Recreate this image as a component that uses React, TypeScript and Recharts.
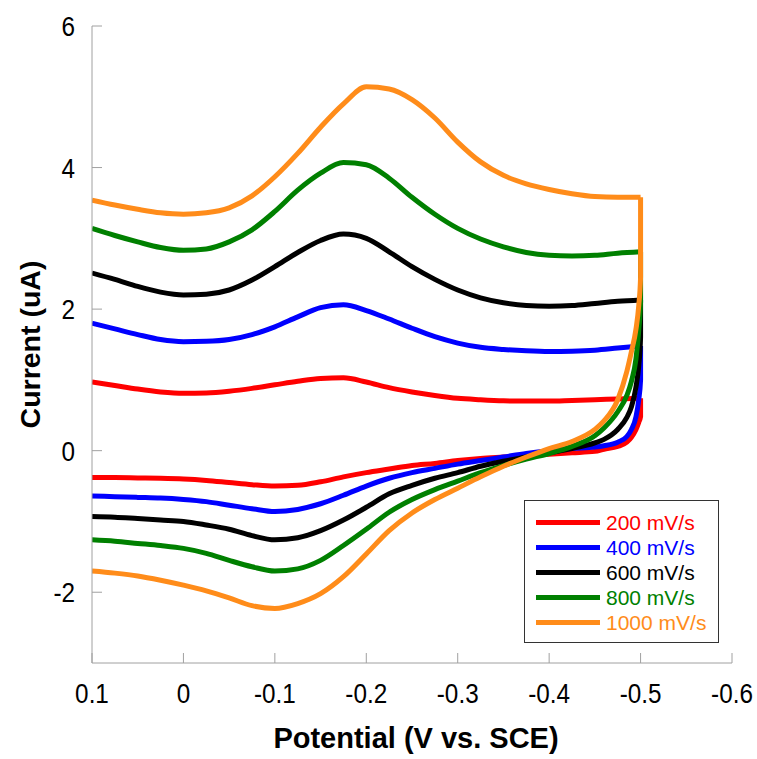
import { LineChart, Line, XAxis, YAxis, Legend, Label } from "recharts";

// potentials (V vs. SCE): forward scan 0.1 -> -0.5, then reverse scan -0.5 -> 0.1
const upperV = [0.1, 0.075, 0.05, 0.025, 0, -0.025, -0.05, -0.075, -0.1, -0.125, -0.15, -0.175, -0.2, -0.225, -0.25, -0.275, -0.3, -0.325, -0.35, -0.375, -0.4, -0.425, -0.45, -0.475, -0.5];
const lowerV = [-0.5, -0.498, -0.495, -0.49, -0.485, -0.475, -0.46, -0.45, -0.425, -0.4, -0.375, -0.35, -0.325, -0.3, -0.275, -0.25, -0.225, -0.2, -0.175, -0.15, -0.125, -0.1, -0.075, -0.05, -0.025, 0, 0.025, 0.05, 0.075, 0.1];

// current (uA)
const up200 = [0.97, 0.92, 0.87, 0.83, 0.81, 0.815, 0.84, 0.88, 0.93, 0.98, 1.02, 1.03, 0.97, 0.89, 0.83, 0.78, 0.74, 0.72, 0.705, 0.7, 0.7, 0.71, 0.72, 0.73, 0.74];
const down200 = [0.48, 0.4, 0.3, 0.19, 0.12, 0.06, 0.02, -0.01, -0.03, -0.05, -0.07, -0.09, -0.11, -0.14, -0.18, -0.21, -0.26, -0.31, -0.37, -0.44, -0.49, -0.5, -0.48, -0.45, -0.42, -0.4, -0.39, -0.385, -0.38, -0.38];

const up400 = [1.8, 1.72, 1.64, 1.57, 1.54, 1.545, 1.57, 1.64, 1.75, 1.89, 2.02, 2.06, 1.98, 1.86, 1.73, 1.61, 1.52, 1.46, 1.43, 1.41, 1.4, 1.405, 1.42, 1.45, 1.48];
const down400 = [1.0, 0.72, 0.48, 0.3, 0.2, 0.12, 0.07, 0.05, 0.03, 0.0, -0.04, -0.09, -0.14, -0.19, -0.25, -0.31, -0.39, -0.5, -0.63, -0.75, -0.83, -0.86, -0.82, -0.77, -0.72, -0.69, -0.67, -0.66, -0.65, -0.64];

const up600 = [2.51, 2.42, 2.32, 2.24, 2.2, 2.21, 2.27, 2.41, 2.6, 2.8, 2.97, 3.06, 3.0, 2.81, 2.6, 2.42, 2.27, 2.16, 2.09, 2.05, 2.04, 2.05, 2.08, 2.11, 2.13];
const down600 = [1.6, 1.2, 0.9, 0.62, 0.47, 0.3, 0.16, 0.11, 0.03, -0.03, -0.09, -0.15, -0.22, -0.31, -0.39, -0.49, -0.61, -0.8, -0.98, -1.13, -1.23, -1.26, -1.2, -1.11, -1.05, -1.0, -0.98, -0.96, -0.94, -0.93];

const up800 = [3.14, 3.04, 2.95, 2.87, 2.83, 2.85, 2.95, 3.12, 3.38, 3.68, 3.92, 4.07, 4.04, 3.85, 3.58, 3.34, 3.14, 2.99, 2.88, 2.8, 2.76, 2.75, 2.76, 2.79, 2.81];
const down800 = [2.1, 1.7, 1.3, 0.98, 0.78, 0.55, 0.32, 0.21, 0.06, -0.04, -0.12, -0.21, -0.31, -0.43, -0.55, -0.69, -0.87, -1.11, -1.34, -1.55, -1.67, -1.7, -1.64, -1.55, -1.45, -1.38, -1.34, -1.31, -1.28, -1.26];

const up1000 = [3.54, 3.47, 3.41, 3.36, 3.34, 3.36, 3.43, 3.6, 3.87, 4.2, 4.57, 4.9, 5.14, 5.11, 4.96, 4.7, 4.36, 4.08, 3.89, 3.77, 3.69, 3.63, 3.59, 3.58, 3.58];
const down1000 = [2.45, 2.05, 1.72, 1.4, 1.12, 0.72, 0.42, 0.3, 0.13, 0.03, -0.09, -0.22, -0.37, -0.53, -0.69, -0.88, -1.13, -1.46, -1.78, -2.02, -2.16, -2.23, -2.19, -2.08, -1.98, -1.9, -1.83, -1.77, -1.73, -1.7];

const xTicks = [0.1, 0, -0.1, -0.2, -0.3, -0.4, -0.5, -0.6];
const yTicks = [-2, 0, 2, 4, 6];

const series = [
  { name: "200 mV/s", color: "#FF0000", up: up200, down: down200 },
  { name: "400 mV/s", color: "#0000FF", up: up400, down: down400 },
  { name: "600 mV/s", color: "#000000", up: up600, down: down600 },
  { name: "800 mV/s", color: "#008000", up: up800, down: down800 },
  { name: "1000 mV/s", color: "#FF8C1A", up: up1000, down: down1000 },
];

// forward branch
const toUpper = (up: number[]) => upperV.map((v, k) => ({ v, i: up[k] }));
// switching point, then reverse branch
const toLower = (up: number[], down: number[]) => [
  { v: upperV[upperV.length - 1], i: up[up.length - 1] },
  ...lowerV.map((v, k) => ({ v, i: down[k] })),
];

const font = "'Liberation Sans', Arial, sans-serif";
const axisColor = "#A0A0A0";

const fmtX = (v: number) => (Math.abs(v) < 1e-9 ? "0" : v.toFixed(1));

const XTick = ({ x, y, payload }: any) => (
  <g transform={`translate(${x},${y})`}>
    <text transform="scale(0.9,1)" textAnchor="middle" dy={20} fontSize={27} fill="#000" fontFamily={font}>
      {fmtX(payload.value)}
    </text>
  </g>
);

const YTick = ({ x, y, payload }: any) => (
  <g transform={`translate(${x},${y})`}>
    <text transform="scale(0.9,1)" textAnchor="end" dy={10} fontSize={27} fill="#000" fontFamily={font}>
      {payload.value}
    </text>
  </g>
);

const XTitle = ({ viewBox }: any) => (
  <text x={viewBox.x + viewBox.width / 2 + 4} y={viewBox.y + 85} textAnchor="middle" fontSize={29} fontWeight="bold" fill="#000" fontFamily={font}>
    Potential (V vs. SCE)
  </text>
);

const YTitle = ({ viewBox }: any) => {
  const cx = 40;
  const cy = viewBox.y + viewBox.height / 2;
  return (
    <text x={cx} y={cy} transform={`rotate(-90, ${cx}, ${cy})`} textAnchor="middle" fontSize={28.5} fontWeight="bold" fill="#000" fontFamily={font}>
      Current (uA)
    </text>
  );
};

const renderLegend = () => (
  <div
    style={{
      width: 195,
      height: 143,
      boxSizing: "border-box",
      border: "1.5px solid #333",
      background: "#fff",
      paddingTop: 9,
    }}
  >
    {series.map((s) => (
      <div key={s.name} style={{ display: "flex", alignItems: "center", height: 25 }}>
        <div style={{ width: 64, height: 5, marginLeft: 11, background: s.color }} />
        <span style={{ marginLeft: 6, fontSize: 21, lineHeight: "25px", color: s.color, fontFamily: font }}>{s.name}</span>
      </div>
    ))}
  </div>
);

export default function App() {
  return (
    <div style={{ position: "absolute", left: 0, top: 0, width: 757, height: 759, background: "#fff" }}>
      <LineChart width={757} height={759} margin={{ top: 26, right: 25, bottom: 66, left: 0 }}>
        <XAxis
          type="number"
          dataKey="v"
          domain={[-0.6, 0.1]}
          reversed
          ticks={xTicks}
          allowDataOverflow
          interval={0}
          height={30}
          stroke={axisColor}
          tickSize={-10}
          tickMargin={30}
          tick={<XTick />}
        >
          <Label content={<XTitle />} />
        </XAxis>
        <YAxis
          type="number"
          domain={[-3, 6]}
          ticks={yTicks}
          allowDataOverflow
          interval={0}
          width={92}
          stroke={axisColor}
          tickSize={-10}
          tickMargin={27}
          tick={<YTick />}
        >
          <Label content={<YTitle />} />
        </YAxis>
        <Legend
          layout="horizontal"
          verticalAlign="middle"
          align="center"
          wrapperStyle={{ left: 524, top: 500, width: 195, height: 143 }}
          content={renderLegend}
        />
        {series.flatMap((s) => [
          <Line
            key={s.name + "-fwd"}
            name={s.name}
            data={toUpper(s.up)}
            dataKey="i"
            type="monotone"
            stroke={s.color}
            strokeWidth={5}
            strokeLinejoin="round"
            dot={false}
            activeDot={false}
            legendType="none"
            isAnimationActive={false}
          />,
          <Line
            key={s.name + "-rev"}
            name={s.name}
            data={toLower(s.up, s.down)}
            dataKey="i"
            type="monotone"
            stroke={s.color}
            strokeWidth={5}
            strokeLinejoin="round"
            dot={false}
            activeDot={false}
            legendType="none"
            isAnimationActive={false}
          />,
        ])}
      </LineChart>
    </div>
  );
}
